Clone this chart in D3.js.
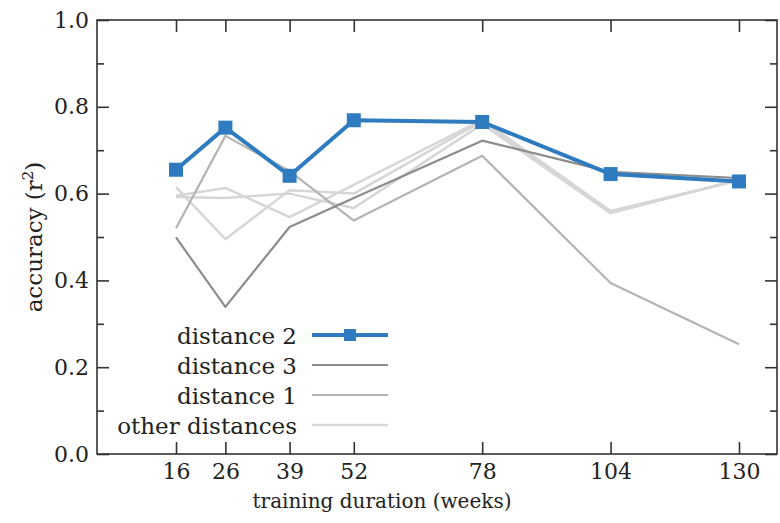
<!DOCTYPE html>
<html>
<head>
<meta charset="utf-8">
<script src="https://cdn.jsdelivr.net/npm/d3@7"></script>
<style>
  body { margin: 0; background: #fff; }
  svg { display: block; }
  svg text { font-family: "DejaVu Serif", serif; }
</style>
</head>
<body>
<script>
// values
const weeks = [16, 26, 39, 52, 78, 104, 130]
const distance2 = [0.655, 0.752, 0.641, 0.769, 0.765, 0.645, 0.628]
const distance3 = [0.499, 0.339, 0.523, 0.59, 0.722, 0.65, 0.636]
const distance1 = [0.52, 0.733, 0.652, 0.538, 0.687, 0.394, 0.253]
const otherA = [0.615, 0.495, 0.608, 0.60, 0.767, 0.556, 0.632]
const otherB = [0.595, 0.613, 0.546, 0.62, 0.77, 0.56, 0.63]
const otherC = [0.592, 0.59, 0.60, 0.567, 0.76, 0.555, 0.632]
const yTicks = [0.0, 0.2, 0.4, 0.6, 0.8, 1.0]
const yMinor = [0.1, 0.3, 0.5, 0.7, 0.9]

let width = 780
let height = 523
let margin = ({top: 20, right: 3, bottom: 69, left: 97})

let x = d3.scaleLinear()
    .domain([0, 137.7])
    .range([margin.left, width - margin.right])

let y = d3.scaleLinear()
    .domain([0, 1])
    .range([height - margin.bottom, margin.top])

const svg = d3.select('body').append('svg')
    .attr('width', width)
    .attr('height', height)

let axisColor = '#333'
let textColor = '#222'
let fs = '22px'

let line = d3.line()
    .x((d, i) => x(weeks[i]))
    .y(d => y(d))

// series, drawn back to front
let series = [
  { name: 'other distances', values: otherA, color: '#d6d6d6', w: 2.5 },
  { name: 'other distances', values: otherB, color: '#d6d6d6', w: 2.5 },
  { name: 'other distances', values: otherC, color: '#d6d6d6', w: 2.5 },
  { name: 'distance 1', values: distance1, color: '#b4b4b4', w: 2.2 },
  { name: 'distance 3', values: distance3, color: '#8c8c8c', w: 2.2 },
  { name: 'distance 2', values: distance2, color: '#2f7bc0', w: 4 },
]

svg.append('g')
  .selectAll('path')
  .data(series)
  .join('path')
    .attr('fill', 'none')
    .attr('stroke', d => d.color)
    .attr('stroke-width', d => d.w)
    .attr('stroke-linejoin', 'round')
    .attr('d', d => line(d.values))

let ms = 14
svg.append('g')
  .selectAll('rect')
  .data(distance2)
  .join('rect')
    .attr('x', (d, i) => x(weeks[i]) - ms/2)
    .attr('y', d => y(d) - ms/2)
    .attr('width', ms)
    .attr('height', ms)
    .attr('fill', '#2f7bc0')

// frame
svg.append('rect')
    .attr('x', margin.left)
    .attr('y', margin.top)
    .attr('width', width - margin.right - margin.left)
    .attr('height', height - margin.bottom - margin.top)
    .attr('fill', 'none')
    .attr('stroke', axisColor)
    .attr('stroke-width', 1.6)

function style_axis(g) {
  g.attr('font-family', null).attr('font-size', null)
  g.selectAll('.domain').remove()
  g.selectAll('.tick line').attr('stroke', axisColor).attr('stroke-width', 1.6)
  g.selectAll('.tick text').attr('fill', textColor).style('font-size', fs)
}

// y axis, ticks inside
svg.append('g')
    .attr('transform', `translate(${margin.left},0)`)
    .call(d3.axisRight(y).tickValues(yTicks).tickSize(12).tickFormat(d3.format('.1f')))
    .call(style_axis)
    .call(g => g.selectAll('.tick text').attr('x', -8).attr('text-anchor', 'end'))

svg.append('g')
    .attr('transform', `translate(${margin.left},0)`)
    .call(d3.axisRight(y).tickValues(yMinor).tickSize(7).tickFormat(''))
    .call(style_axis)

// right mirror
svg.append('g')
    .attr('transform', `translate(${width - margin.right},0)`)
    .call(d3.axisLeft(y).tickValues(yTicks).tickSize(12).tickFormat(''))
    .call(style_axis)

svg.append('g')
    .attr('transform', `translate(${width - margin.right},0)`)
    .call(d3.axisLeft(y).tickValues(yMinor).tickSize(7).tickFormat(''))
    .call(style_axis)

// x axis, ticks inside
svg.append('g')
    .attr('transform', `translate(0,${height - margin.bottom})`)
    .call(d3.axisTop(x).tickValues(weeks).tickSize(12).tickFormat(d3.format('d')))
    .call(style_axis)
    .call(g => g.selectAll('.tick text').attr('y', 25).attr('dy', null))

svg.append('g')
    .attr('transform', `translate(0,${margin.top})`)
    .call(d3.axisBottom(x).tickValues(weeks).tickSize(12).tickFormat(''))
    .call(style_axis)

// axis titles
svg.append('text')
    .attr('x', 382)
    .attr('y', 508)
    .attr('text-anchor', 'middle')
    .attr('fill', textColor)
    .style('font-size', '20px')
    .text('training duration (weeks)')

let yt = svg.append('text')
    .attr('transform', `translate(42,${(margin.top + height - margin.bottom) / 2}) rotate(-90)`)
    .attr('text-anchor', 'middle')
    .attr('fill', textColor)
    .style('font-size', '23px')
yt.append('tspan').text('accuracy (r')
yt.append('tspan').attr('dy', -9).style('font-size', '15px').text('2')
yt.append('tspan').attr('dy', 9).text(')')

// legend
let legendItems = [
  { name: 'distance 2', color: '#2f7bc0', w: 4, marker: true },
  { name: 'distance 3', color: '#8c8c8c', w: 2.2 },
  { name: 'distance 1', color: '#b4b4b4', w: 2.2 },
  { name: 'other distances', color: '#d6d6d6', w: 2.5 },
]

let legend = svg.append('g')
  .selectAll('g')
  .data(legendItems)
  .join('g')
    .attr('transform', (d, i) => `translate(0,${335 + i * 30})`)

legend.append('text')
    .attr('x', 297)
    .attr('dy', '0.4em')
    .attr('text-anchor', 'end')
    .attr('fill', textColor)
    .style('font-size', '23px')
    .text(d => d.name)

legend.append('line')
    .attr('x1', 312)
    .attr('x2', 388)
    .attr('stroke', d => d.color)
    .attr('stroke-width', d => d.w)

legend.filter(d => d.marker).append('rect')
    .attr('x', 350 - 6)
    .attr('y', -6)
    .attr('width', 12)
    .attr('height', 12)
    .attr('fill', '#2f7bc0')
</script>
</body>
</html>
